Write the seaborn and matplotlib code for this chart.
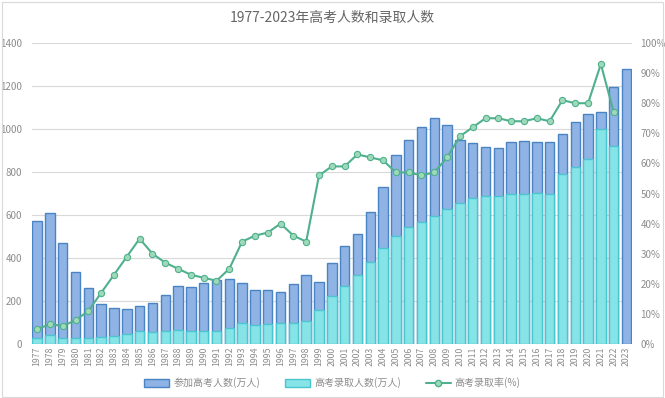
import numpy as np
import pandas as pd
import matplotlib
matplotlib.use("Agg")
import matplotlib.pyplot as plt
import seaborn as sns
from matplotlib.patches import Patch
from matplotlib.lines import Line2D

years = [str(y) for y in range(1977, 2024)]
applicants = [570, 610, 468, 333, 259, 187, 167, 164, 176, 191, 228, 272, 266, 283, 296, 303,
              286, 251, 253, 241, 278, 320, 288, 375, 454, 510, 613, 729, 877, 950, 1010, 1050,
              1020, 948, 933, 915, 912, 940, 942, 940, 940, 976, 1031, 1071, 1078, 1194, 1280]
admitted = [27, 40, 28, 28, 28, 32, 39, 48, 62, 57, 62, 67, 60, 61, 62, 75,
            98, 90, 93, 97, 100, 108, 160, 221, 268, 320, 382, 447, 504, 546, 566, 597,
            630, 657, 677, 688, 688, 700, 700, 703, 700, 791, 821, 859, 1002, 920, np.nan]
rate = [4.9, 6.6, 6.0, 7.9, 11, 17, 23, 29, 35, 30, 27, 25, 23, 22, 21, 25,
        34, 36, 37, 40, 36, 34, 56, 59, 59, 63, 62, 61, 57, 57, 56, 57,
        62, 69, 72, 75, 75, 74, 74, 75, 74, 81, 80, 80, 93, 77]

title = "1977-2023年高考人数和录取人数"
lab_app = "参加高考人数(万人)"
lab_adm = "高考录取人数(万人)"
lab_rate = "高考录取率(%)"

sns.set_theme(style="white")
plt.rcParams['font.family'] = ['Noto Sans CJK SC', 'DejaVu Sans']

df = pd.DataFrame({"year": years, "app": applicants, "adm": admitted})
df_rate = pd.DataFrame({"pos": np.arange(len(rate)), "rate": rate})

fig = plt.figure(figsize=(6.65, 3.98), dpi=100)
ax = fig.add_axes([32/665, 1-344/398, 600/665, 301/398])

c_app, e_app = "#8EB3E4", "#4A84C4"
c_adm, e_adm = "#86E3E6", "#49C6CF"
c_line = "#4FB08E"

sns.barplot(data=df, x="year", y="app", order=years, color=c_app, saturation=1,
            width=0.74, edgecolor=e_app, linewidth=1.0, ax=ax)
sns.barplot(data=df, x="year", y="adm", order=years, color=c_adm, saturation=1,
            width=0.74, edgecolor=e_adm, linewidth=1.0, ax=ax)

ax.set_ylim(0, 1400)
ax.set_yticks(range(0, 1401, 200))
ax.set_xlim(-0.4, 46.43)
ax.grid(axis="y", color="#D9D9D9", linewidth=0.8)
ax.set_axisbelow(True)
for s in ax.spines.values():
    s.set_visible(False)
ax.set_xlabel("")
ax.set_ylabel("")
ax.tick_params(axis="x", labelrotation=90, labelsize=6.3, colors="#8C8C8C", pad=2, length=0)
ax.tick_params(axis="y", labelsize=7, colors="#8C8C8C", length=0, pad=7)

ax2 = ax.twinx()
sns.lineplot(data=df_rate, x="pos", y="rate", color=c_line, linewidth=1.5, marker="o",
             markersize=4.5, markerfacecolor="#9ED9B8", markeredgecolor=c_line,
             markeredgewidth=0.8, ax=ax2)
ax2.set_ylim(0, 100)
ax2.set_yticks(range(0, 101, 10))
ax2.set_yticklabels([f"{v}%" for v in range(0, 101, 10)])
ax2.set_ylabel("")
for s in ax2.spines.values():
    s.set_visible(False)
ax2.tick_params(axis="y", labelsize=7, colors="#8C8C8C", length=0, pad=6)
ax2.set_xlim(-0.4, 46.43)

fig.text(0.5, 1-18/398, title, ha="center", va="center", fontsize=10, color="#666666")

handles = [Patch(facecolor=c_app, edgecolor=e_app, linewidth=1.0),
           Patch(facecolor=c_adm, edgecolor=e_adm, linewidth=1.0),
           Line2D([0], [0], color=c_line, linewidth=1.5, marker="o", markersize=4.5,
                  markerfacecolor="#9ED9B8", markeredgecolor=c_line)]
fig.legend(handles, [lab_app, lab_adm, lab_rate], loc="center", bbox_to_anchor=(0.5, 1-383/398),
           ncol=3, frameon=False, fontsize=7.2, labelcolor="#8C8C8C", handlelength=2.5,
           handleheight=0.8, columnspacing=2.5, handletextpad=0.4)

border = plt.Rectangle((0.003, 0.003), 0.994, 0.992, transform=fig.transFigure,
                       fill=False, edgecolor="#D9D9D9", linewidth=0.8)
fig.patches.append(border)

fig.savefig("out.png", dpi=100)
